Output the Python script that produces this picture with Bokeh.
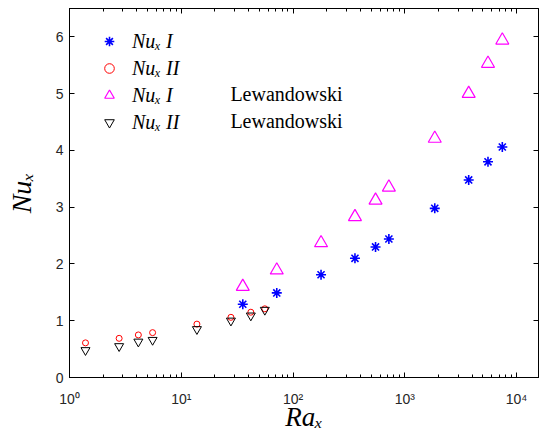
from bokeh.plotting import figure
from bokeh.models import (Range1d, LogAxis, LinearAxis, Legend, LegendItem, Label,
                          CustomJSTickFormatter, LogTicker, FixedTicker)
from bokeh.embed import file_html
from bokeh.resources import INLINE

# ---- data ----
ra_I = [35.5, 71.5, 178, 358, 547, 720, 1853, 3727, 5546, 7450]
nu_I = [1.29, 1.49, 1.81, 2.10, 2.30, 2.44, 2.98, 3.48, 3.80, 4.06]
nu_I_lew = [1.60, 1.89, 2.37, 2.83, 3.12, 3.35, 4.21, 5.00, 5.53, 5.94]
ra_II = [1.39, 2.78, 4.13, 5.54, 13.8, 27.8, 41.9, 55.9]
nu_II = [0.61, 0.69, 0.75, 0.79, 0.94, 1.06, 1.15, 1.21]
nu_II_lew = [0.48, 0.55, 0.63, 0.66, 0.85, 1.00, 1.09, 1.19]

y_ticks = [0, 1, 2, 3, 4, 5, 6]
x_major = [1, 10, 100, 1000, 10000]
x_tick_labels = ["10\u2070", "10\u00b9", "10\u00b2", "10\u00b3", "10\u2074"]

legend_labels = ["Nu\u2093 I", "Nu\u2093 II", "Nu\u2093 I", "Nu\u2093 II"]
legend_suffix = "Lewandowski"

TICK_FONT = "Liberation Sans"
SERIF = "Liberation Serif"

p = figure(width=541, height=434, output_backend="svg", toolbar_location=None,
           x_axis_type="log", x_range=Range1d(1, 15700), y_range=Range1d(0, 6.5),
           min_border_left=69, min_border_right=2, min_border_top=8,
           min_border_bottom=57, background_fill_color="white",
           border_fill_color="white")
p.grid.visible = False
p.outline_line_color = "black"

r1 = p.scatter(ra_I, nu_I, marker="asterisk", size=10, line_color="#0000ff", line_width=1.6)
r2 = p.scatter(ra_II, nu_II, marker="circle", size=6, line_color="#ff0000",
               fill_color=None, line_width=1)
r3 = p.scatter(ra_I, nu_I_lew, marker="triangle", size=13, line_color="#ff00ff",
               fill_color=None, line_width=1.2)
r4 = p.scatter(ra_II, nu_II_lew, marker="inverted_triangle", size=9, line_color="black",
               fill_color=None, line_width=1)

def style_axis(ax):
    ax.axis_line_color = "black"
    ax.axis_line_width = 1
    ax.major_tick_in = 5
    ax.major_tick_out = 0
    ax.minor_tick_in = 3
    ax.minor_tick_out = 0
    ax.major_tick_line_color = "black"
    ax.minor_tick_line_color = "black"
    ax.major_label_text_font = TICK_FONT
    ax.major_label_text_font_size = "14px"
    ax.major_label_text_color = "#262626"

# bottom axis
xa = p.xaxis[0]
style_axis(xa)
xa.ticker = LogTicker(num_minor_ticks=10)
xa.major_label_overrides = dict(zip(x_major, x_tick_labels))
xa.major_label_standoff = 13
xa.axis_label = "Ra\u2093"
xa.axis_label_text_font = SERIF
xa.axis_label_text_font_style = "italic"
xa.axis_label_text_font_size = "27px"
xa.axis_label_text_color = "black"
xa.axis_label_standoff = -8

# left axis
ya = p.yaxis[0]
style_axis(ya)
ya.ticker = FixedTicker(ticks=y_ticks, minor_ticks=[])
ya.major_label_standoff = 6
ya.axis_label = "Nu\u2093"
ya.axis_label_text_font = SERIF
ya.axis_label_text_font_style = "italic"
ya.axis_label_text_font_size = "28px"
ya.axis_label_text_color = "black"
ya.axis_label_standoff = 16

blank = CustomJSTickFormatter(code="return ' '")

top = LogAxis(ticker=LogTicker(num_minor_ticks=10), formatter=blank)
style_axis(top)
top.major_label_text_font_size = "1px"
top.major_label_standoff = 0
p.add_layout(top, "above")

right = LinearAxis(ticker=FixedTicker(ticks=y_ticks, minor_ticks=[]), formatter=blank)
style_axis(right)
right.major_label_text_font_size = "1px"
right.major_label_standoff = 0
p.add_layout(right, "right")

legend = Legend(items=[LegendItem(label=legend_labels[0], renderers=[r1]),
                       LegendItem(label=legend_labels[1], renderers=[r2]),
                       LegendItem(label=legend_labels[2], renderers=[r3]),
                       LegendItem(label=legend_labels[3], renderers=[r4])],
                location="top_left", margin=21, padding=0,
                glyph_width=38, glyph_height=24, label_height=24, spacing=3,
                label_standoff=4, border_line_color=None,
                background_fill_alpha=0,
                label_text_font=SERIF, label_text_font_style="italic",
                label_text_font_size="20px", label_text_color="black")
p.add_layout(legend)

for yv in (5.0, 4.52):
    p.add_layout(Label(x=27.5, y=yv, text=legend_suffix, text_font=SERIF,
                       text_font_size="20px", text_color="black",
                       text_baseline="middle", text_align="left"))

open("out.html", "w").write(file_html(p, INLINE))
